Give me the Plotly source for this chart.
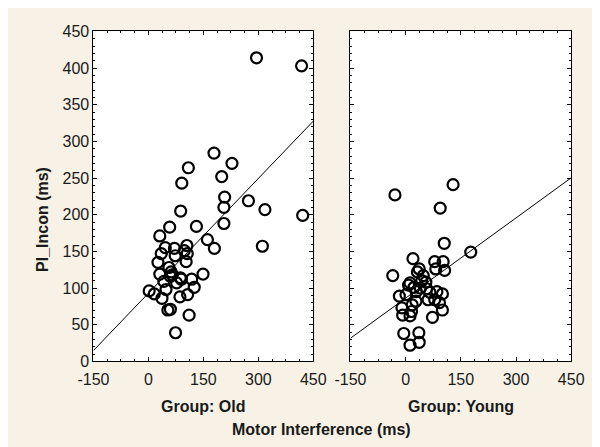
import plotly.graph_objects as go

# ---- data ----
old_x = [295, 418, 421, 318, 311, 273, 179, 228, 200, 208, 206, 206, 161, 180, 131,
         109, 91, 88, 149, 125, 118, 111, 107, 105, 106, 98, 103, 90, 86, 87, 74, 73,
         71, 77, 58, 60, 56, 53, 60, 48, 46, 42, 35, 31, 26, 31, 37, 2, 16, 62, 65]
old_y = [414, 403, 199, 207, 157, 219, 284, 270, 252, 224, 210, 188, 166, 154, 184,
         264, 243, 205, 119, 101, 112, 63, 91, 158, 147, 151, 136, 112, 88, 114, 39, 144,
         154, 107, 183, 116, 128, 70, 71, 98, 155, 109, 147, 171, 135, 119, 86, 96, 92, 122, 118]

young_x = [-29, 129, 94, 105, 177, -35, 20, 79, 102, 82, 106, 37, 32, 48, 44, 12, 23,
           57, -17, 1, 29, 66, 61, 79, 100, 92, 28, 18, -10, 100, 16, -8, 12, 73, -5,
           36, 12, 37, 8, 40, 55, 85]
young_y = [227, 241, 209, 161, 149, 117, 140, 136, 136, 126, 124, 126, 122, 117, 110,
           107, 101, 99, 89, 91, 95, 94, 84, 84, 92, 80, 82, 77, 73, 70, 68, 63, 62, 60,
           38, 39, 22, 26, 104, 100, 108, 95]

# fitted lines (intercept, slope)
old_fit = (93.0, 0.5215)
young_fit = (86.2, 0.3647)
line_x = [-150, 450]

x_ticks = [-150, 0, 150, 300, 450]
y_ticks = [0, 50, 100, 150, 200, 250, 300, 350, 400, 450]

BG = "#F7F2E5"
FONT = "Liberation Sans, Arial, sans-serif"

fig = go.Figure()

marker = dict(symbol="circle-open", size=11, color="black", line=dict(width=2.2, color="black"))

fig.add_trace(go.Scatter(x=old_x, y=old_y, mode="markers", marker=marker,
                         xaxis="x", yaxis="y", showlegend=False))
fig.add_trace(go.Scatter(x=line_x, y=[old_fit[0] + old_fit[1] * v for v in line_x],
                         mode="lines", line=dict(color="black", width=1),
                         xaxis="x", yaxis="y", showlegend=False))
fig.add_trace(go.Scatter(x=young_x, y=young_y, mode="markers", marker=marker,
                         xaxis="x2", yaxis="y2", showlegend=False))
fig.add_trace(go.Scatter(x=line_x, y=[young_fit[0] + young_fit[1] * v for v in line_x],
                         mode="lines", line=dict(color="black", width=1),
                         xaxis="x2", yaxis="y2", showlegend=False))

W, H = 600, 447
ydom = [(H - 359) / H, (H - 16) / H]

def xaxis(dom):
    return dict(domain=dom, range=[-150, 450], tickvals=x_ticks, ticktext=[str(v) for v in x_ticks],
                ticks="inside", ticklen=4, tickcolor="black", showline=True, linecolor="black",
                linewidth=1, mirror="all", showgrid=False, zeroline=False,
                ticklabelstandoff=3,
                tickfont=dict(family=FONT, size=16, color="#1a1a1a"),
                minor=dict(dtick=37.5, tick0=0, ticks="inside", ticklen=2, tickcolor="black", showgrid=False))

def yaxis(anchor, labels):
    return dict(domain=ydom, range=[0, 450], tickvals=y_ticks, anchor=anchor,
                ticks="inside", ticklen=4, tickcolor="black", showline=True, linecolor="black",
                linewidth=1, mirror="all", showgrid=False, zeroline=False,
                showticklabels=labels,
                tickfont=dict(family=FONT, size=16, color="#1a1a1a"),
                minor=dict(dtick=10, tick0=0, ticks="inside", ticklen=2, tickcolor="black", showgrid=False))

fig.update_layout(
    width=W, height=H,
    margin=dict(l=0, r=0, t=0, b=0),
    paper_bgcolor=BG, plot_bgcolor="white",
    xaxis=dict(xaxis([73 / W, 304 / W]), anchor="y"),
    yaxis=yaxis("x", True),
    xaxis2=dict(xaxis([343 / W, 575 / W]), anchor="y2"),
    yaxis2=yaxis("x2", False),
    font=dict(family=FONT, color="#1a1a1a"),
)

tf = dict(family=FONT, size=16, color="#1a1a1a")
fig.add_annotation(text="<b>Group: Old</b>", x=188.5 / W, y=(H - 406) / H, xref="paper", yref="paper",
                   showarrow=False, font=tf, xanchor="center", yanchor="middle")
fig.add_annotation(text="<b>Group: Young</b>", x=459 / W, y=(H - 406) / H, xref="paper", yref="paper",
                   showarrow=False, font=tf, xanchor="center", yanchor="middle")
fig.add_annotation(text="<b>Motor Interference (ms)</b>", x=313 / W, y=(H - 430) / H, xref="paper", yref="paper",
                   showarrow=False, font=tf, xanchor="center", yanchor="middle")
fig.add_annotation(text="<b>PI_Incon (ms)</b>", x=20 / W, y=(H - 212) / H, xref="paper", yref="paper",
                   showarrow=False, font=tf, textangle=-90, xanchor="center", yanchor="middle")

fig.write_html("out.html")
